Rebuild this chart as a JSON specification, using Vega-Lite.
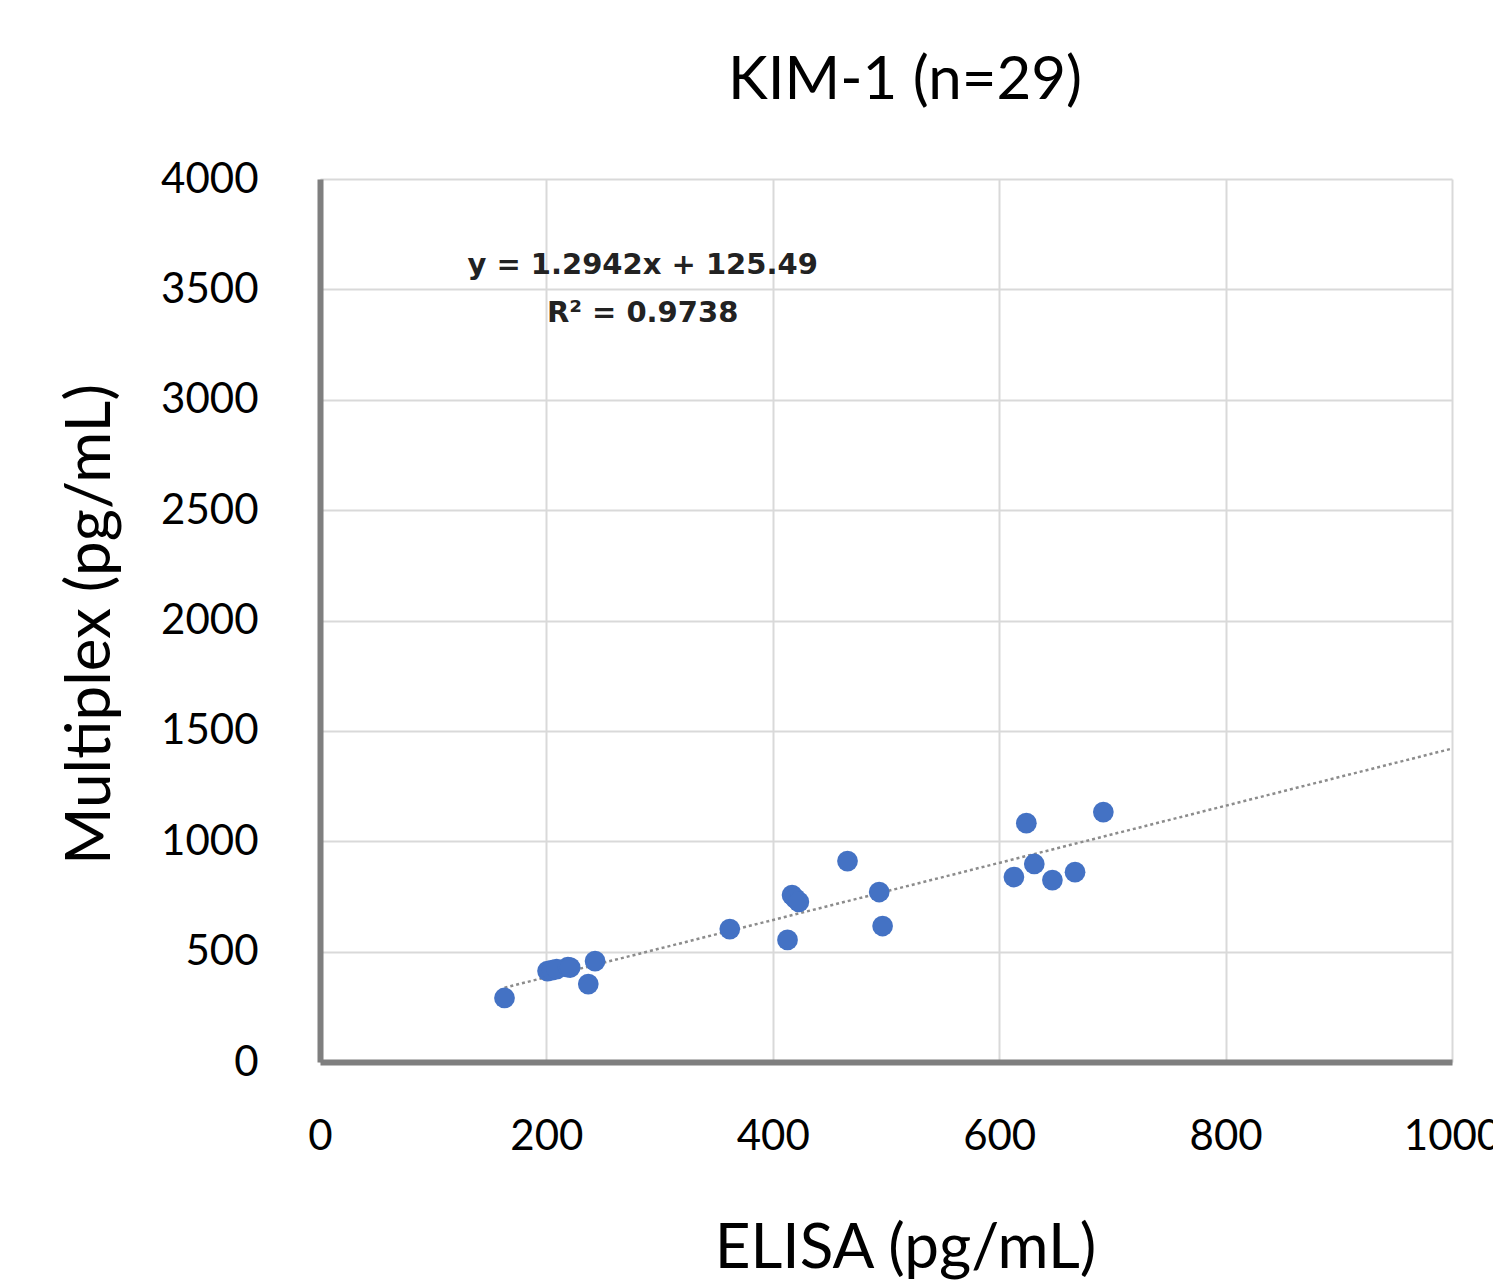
{
  "$schema": "https://vega.github.io/schema/vega-lite/v6.json",
  "width": 1132,
  "height": 883,
  "autosize": {"type": "none"},
  "padding": {"left": 320, "top": 179, "right": 41, "bottom": 218},
  "background": "white",
  "title": {
    "text": "KIM-1  (n=29)",
    "font": "Lato",
    "fontSize": 60,
    "fontWeight": "normal",
    "color": "black",
    "anchor": "middle",
    "dx": 19,
    "offset": 46
  },
  "config": {
    "view": {"stroke": null},
    "axis": {
      "labelFont": "Lato",
      "labelFontSize": 42,
      "labelColor": "black",
      "titleFont": "Lato",
      "titleFontSize": 62,
      "titleFontWeight": "normal",
      "titleColor": "black",
      "gridColor": "#d9d9d9",
      "gridWidth": 2,
      "ticks": false,
      "domainColor": "#7f7f7f",
      "domainWidth": 6,
      "format": "d",
      "labelFlush": false,
      "labelOverlap": false
    }
  },
  "datasets": {
    "pts": [
      {"elisa": 163, "multiplex": 290},
      {"elisa": 201, "multiplex": 412},
      {"elisa": 205, "multiplex": 416},
      {"elisa": 209, "multiplex": 421},
      {"elisa": 219, "multiplex": 430},
      {"elisa": 221, "multiplex": 428},
      {"elisa": 237, "multiplex": 353},
      {"elisa": 243, "multiplex": 457},
      {"elisa": 362, "multiplex": 602},
      {"elisa": 413, "multiplex": 553},
      {"elisa": 417, "multiplex": 756},
      {"elisa": 420, "multiplex": 740},
      {"elisa": 423, "multiplex": 725},
      {"elisa": 466, "multiplex": 910},
      {"elisa": 494, "multiplex": 770},
      {"elisa": 497, "multiplex": 616},
      {"elisa": 613, "multiplex": 838},
      {"elisa": 624, "multiplex": 1082},
      {"elisa": 631, "multiplex": 897},
      {"elisa": 647, "multiplex": 824},
      {"elisa": 667, "multiplex": 860},
      {"elisa": 692, "multiplex": 1132}
    ],
    "trend": [
      {"elisa": 163, "multiplex": 336.5},
      {"elisa": 1000, "multiplex": 1419.7}
    ],
    "notes": [
      {"label": "y = 1.2942x + 125.49", "ex": 285, "ey": 3610},
      {"label": "R² = 0.9738", "ex": 285, "ey": 3395}
    ]
  },
  "layer": [
    {
      "data": {"name": "trend"},
      "mark": {"type": "line", "color": "#8c8c8c", "strokeWidth": 2.5, "strokeDash": [3, 3]},
      "encoding": {
        "x": {
          "field": "elisa",
          "type": "quantitative",
          "scale": {"domain": [0, 1000], "nice": false},
          "axis": {
            "values": [0, 200, 400, 600, 800, 1000],
            "title": "ELISA (pg/mL)",
            "labelPadding": 54,
            "labelDx": -6,
            "labelBound": false,
            "titleX": 585,
            "titleY": 186,
            "titleBaseline": "middle",
            "titleAlign": "center"
          }
        },
        "y": {
          "field": "multiplex",
          "type": "quantitative",
          "scale": {"domain": [0, 4000], "nice": false},
          "axis": {
            "values": [0, 500, 1000, 1500, 2000, 2500, 3000, 3500, 4000],
            "title": "Multiplex (pg/mL)",
            "labelPadding": 62,
            "labelDy": 6,
            "titleX": -230,
            "titleY": 445,
            "titleAngle": -90,
            "titleBaseline": "middle",
            "titleAlign": "center"
          }
        }
      }
    },
    {
      "data": {"name": "pts"},
      "mark": {"type": "point", "filled": true, "shape": "circle", "size": 430, "color": "#4472c4", "opacity": 1},
      "encoding": {
        "x": {"field": "elisa", "type": "quantitative"},
        "y": {"field": "multiplex", "type": "quantitative"}
      }
    },
    {
      "data": {"name": "notes"},
      "mark": {"type": "text", "font": "DejaVu Sans", "fontWeight": "bold", "fontSize": 29, "color": "#222222", "align": "center", "baseline": "middle"},
      "encoding": {
        "x": {"field": "ex", "type": "quantitative"},
        "y": {"field": "ey", "type": "quantitative"},
        "text": {"field": "label"}
      }
    }
  ]
}
